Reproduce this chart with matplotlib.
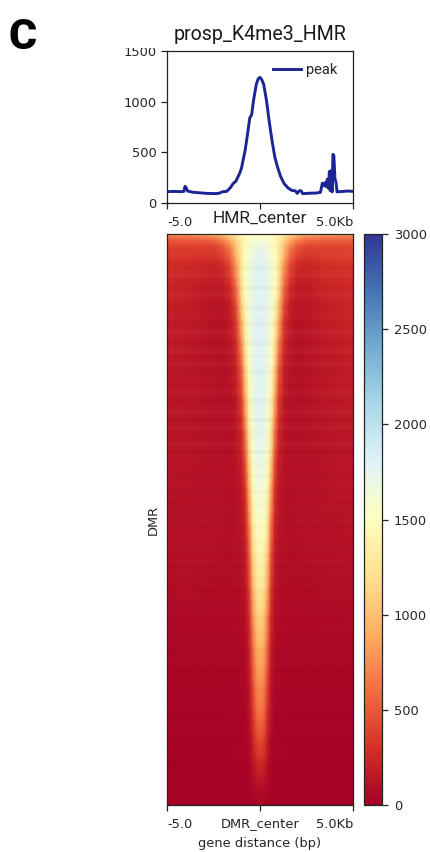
import matplotlib

matplotlib.use("Agg")
import matplotlib.pyplot as plt
import numpy as np
from matplotlib.cm import ScalarMappable
from matplotlib.colors import Normalize
from matplotlib.patches import Rectangle

W, H = 431, 852

# profile line
PROFILE_KB = [-5.0, -4.6, -4.2, -4.1, -4.03, -3.97, -3.9, -3.85, -3.6, -3.2, -2.8, -2.4, -2.2, -2.0, -1.8,
              -1.6, -1.45, -1.3, -1.1, -1.0, -0.9, -0.8, -0.7, -0.55, -0.45, -0.35, -0.2, -0.1, 0.0, 0.1,
              0.2, 0.35, 0.5, 0.65, 0.8, 0.95, 1.1, 1.3, 1.5, 1.7, 1.9, 2.0, 2.1, 2.2, 2.3, 2.6, 3.0, 3.25,
              3.35, 3.42, 3.5, 3.56, 3.62, 3.68, 3.73, 3.78, 3.83, 3.88, 3.92, 3.97, 4.03, 4.09, 4.14, 4.2,
              4.26, 4.4, 4.7, 5.0]
PROFILE_Y = [112, 114, 112, 114, 165, 150, 118, 116, 106, 100, 94, 93, 96, 112, 114,
             150, 190, 215, 290, 340, 430, 520, 640, 840, 870, 1010, 1170, 1225, 1240, 1215,
             1170, 1010, 800, 610, 450, 350, 265, 190, 150, 125, 120, 95, 118, 122, 92, 96, 98, 105,
             195, 170, 200, 160, 235, 145, 310, 120, 320, 110, 480, 470, 240, 200, 110, 110,
             112, 113, 118, 115]

# heatmap table: column positions (kb), row depth (0 top, 1 bottom), signal per cell
HEAT_KB = [-5, -3.5, -2.5, -2, -1.6, -1.3, -1, -0.8, -0.6, -0.4, -0.2, 0, 0.2, 0.4, 0.6, 0.8, 1, 1.3, 1.6, 2, 2.5, 3.5, 5]
HEAT_DEPTH = [0, 0.006, 0.012, 0.02, 0.03, 0.045, 0.065, 0.09, 0.115, 0.15, 0.19, 0.23, 0.28, 0.335,
              0.39, 0.44, 0.5, 0.56, 0.62, 0.67, 0.72, 0.78, 0.85, 0.89, 0.92, 0.95, 0.97, 1]
HEAT = [
    [800, 860, 950, 1080, 1200, 1300, 1400, 1450, 1480, 1500, 1510, 1510, 1510, 1500, 1480, 1450, 1400, 1300, 1200, 1080, 960, 880, 830],
    [600, 630, 700, 840, 1020, 1200, 1360, 1440, 1490, 1530, 1560, 1570, 1560, 1530, 1490, 1440, 1360, 1200, 1020, 840, 710, 650, 630],
    [490, 500, 550, 680, 880, 1120, 1340, 1450, 1510, 1570, 1610, 1620, 1610, 1570, 1510, 1450, 1340, 1120, 880, 680, 560, 520, 520],
    [400, 400, 420, 530, 750, 1050, 1330, 1460, 1540, 1610, 1650, 1660, 1650, 1610, 1540, 1460, 1330, 1050, 750, 530, 440, 430, 430],
    [360, 340, 340, 430, 640, 980, 1320, 1480, 1570, 1650, 1710, 1730, 1710, 1650, 1570, 1480, 1320, 980, 640, 430, 360, 370, 390],
    [310, 290, 260, 320, 510, 880, 1300, 1490, 1600, 1690, 1750, 1770, 1750, 1690, 1600, 1490, 1300, 880, 510, 320, 280, 320, 340],
    [270, 240, 200, 240, 400, 750, 1280, 1500, 1620, 1710, 1770, 1790, 1770, 1710, 1620, 1500, 1280, 750, 400, 240, 220, 270, 300],
    [240, 210, 165, 180, 300, 610, 1220, 1480, 1620, 1710, 1770, 1790, 1770, 1710, 1620, 1480, 1220, 610, 300, 180, 180, 240, 270],
    [220, 185, 140, 145, 230, 470, 1120, 1440, 1610, 1710, 1770, 1790, 1770, 1710, 1610, 1440, 1120, 470, 230, 145, 155, 210, 250],
    [195, 165, 125, 125, 180, 350, 950, 1370, 1580, 1700, 1770, 1790, 1770, 1700, 1580, 1370, 950, 350, 180, 125, 140, 195, 225],
    [175, 150, 120, 115, 150, 260, 740, 1260, 1540, 1690, 1770, 1790, 1770, 1690, 1540, 1260, 740, 260, 150, 115, 130, 175, 205],
    [160, 140, 120, 110, 130, 210, 560, 1120, 1480, 1670, 1760, 1780, 1760, 1670, 1480, 1120, 560, 210, 130, 110, 125, 160, 190],
    [150, 135, 115, 105, 115, 175, 400, 920, 1400, 1650, 1750, 1770, 1750, 1650, 1400, 920, 400, 175, 115, 105, 120, 150, 175],
    [140, 125, 110, 105, 105, 145, 280, 700, 1290, 1610, 1730, 1750, 1730, 1610, 1290, 700, 280, 145, 105, 105, 115, 135, 155],
    [130, 120, 110, 100, 100, 125, 210, 480, 1120, 1540, 1690, 1710, 1690, 1540, 1120, 480, 210, 125, 100, 100, 110, 125, 140],
    [125, 115, 105, 100, 95, 115, 165, 330, 900, 1440, 1620, 1650, 1620, 1440, 900, 330, 165, 115, 95, 100, 105, 120, 135],
    [115, 110, 105, 95, 90, 105, 135, 230, 660, 1280, 1520, 1560, 1520, 1280, 660, 230, 135, 105, 90, 95, 105, 115, 125],
    [105, 100, 95, 90, 85, 95, 115, 175, 480, 1090, 1380, 1430, 1380, 1090, 480, 175, 115, 95, 85, 90, 95, 105, 110],
    [85, 85, 80, 75, 75, 80, 95, 130, 340, 880, 1220, 1280, 1220, 880, 340, 130, 95, 80, 75, 75, 80, 85, 90],
    [70, 70, 65, 65, 65, 70, 80, 100, 250, 710, 1060, 1130, 1060, 710, 250, 100, 80, 70, 65, 65, 65, 70, 75],
    [55, 55, 50, 50, 50, 55, 65, 80, 190, 570, 900, 980, 900, 570, 190, 80, 65, 55, 50, 50, 50, 55, 55],
    [45, 45, 40, 40, 40, 45, 50, 65, 140, 430, 730, 800, 730, 430, 140, 65, 50, 45, 40, 40, 40, 45, 45],
    [30, 30, 28, 28, 28, 30, 35, 45, 95, 280, 530, 600, 530, 280, 95, 45, 35, 30, 28, 28, 28, 30, 30],
    [26, 26, 25, 25, 25, 28, 30, 38, 70, 190, 380, 430, 380, 190, 70, 38, 30, 28, 25, 25, 25, 26, 26],
    [22, 22, 22, 22, 22, 25, 26, 32, 55, 130, 260, 300, 260, 130, 55, 32, 26, 25, 22, 22, 22, 22, 22],
    [20, 20, 20, 20, 20, 22, 22, 26, 38, 80, 150, 175, 150, 80, 38, 26, 22, 22, 20, 20, 20, 20, 20],
    [18, 18, 18, 18, 18, 20, 20, 22, 28, 48, 85, 100, 85, 48, 28, 22, 20, 20, 18, 18, 18, 18, 18],
    [15, 15, 15, 15, 15, 15, 15, 15, 16, 18, 22, 24, 22, 18, 16, 15, 15, 15, 15, 15, 15, 15, 15],
]

# row-to-row brightness streaks, top to bottom (-2 darker .. 2 lighter), estimated by eye
STREAKS = [2, 1, 0, -1, 1, 2, 0, -1, -2, 1, 2, -1, 0, -2, 1, 2, 0, -1, -2, 0, 1, -1, -2, 0, 2, 1, -1, -2, 1, 2,
           -1, 0, 2, -1, -2, 0, 1, -1, 0, 2, 1, -2, -1, 1, 2, 0, -2, 1, 2, -1, -1, 0, 2, 1, -2, 0, 1, -1, 0, 1,
           -1, 0, 1, 0, -1, 1, 0, -1, 1, 1, -1, 0, 1, -1, 0, 1, 0, -1, 1, 0, -1, 0, 1, -1, 1, 0, -1, 1, 0, -1,
           0, 1, -1, 0, 1, 0, -1, 0, 1, 0, -1, 0, 0, 1, -1, 0, 0, 1, 0, -1, 0, 0, 1, 0, -1, 0, 0, 0, 1, 0,
           -1, 0, 0, 1, 0, 0, -1, 0, 0, 0, 1, 0, 0, -1, 0, 0, 0, 0, 0, 0, 0, 0, 0]

XTICKS = [-5, 0, 5]
PROFILE_YTICKS = [0, 500, 1000, 1500]
CBAR_TICKS = [0, 500, 1000, 1500, 2000, 2500, 3000]

LINE_COLOR = "#1c2594"
EDGE_COLOR = "#222222"
TEXT_COLOR = "#262626"


def px_axes(fig, left, top, right, bottom):
    return fig.add_axes([left / W, 1 - bottom / H, (right - left) / W, (bottom - top) / H])


def label_xticks(ax, center):
    ax.set_xlim(-5, 5)
    ax.set_xticks(XTICKS)
    ax.set_xticklabels(["-5.0", center, "5.0Kb"])
    labels = ax.get_xticklabels()
    labels[0].set_ha("left")
    labels[2].set_ha("right")
    return labels


def style_axes(ax):
    for spine in ax.spines.values():
        spine.set_linewidth(0.9)
        spine.set_color(EDGE_COLOR)
    ax.tick_params(labelsize=9.4, length=4, width=0.9, color=EDGE_COLOR, labelcolor=TEXT_COLOR)


def streak_overlay(ax):
    # white or black per row, alpha from the streak strength
    streaks = np.array(STREAKS, dtype=float)
    rgba = np.zeros((len(streaks), 1, 4))
    rgba[streaks > 0, 0, :3] = 1
    rgba[:, 0, 3] = np.abs(streaks) * 0.014
    ax.imshow(rgba, aspect="auto", extent=(-5, 5, 1, 0), interpolation="nearest", zorder=3)


def main():
    fig = plt.figure(figsize=(W / 100, H / 100), dpi=100)

    # top profile
    ax = px_axes(fig, 167, 51, 353, 203)
    ax.plot(PROFILE_KB, PROFILE_Y, color=LINE_COLOR, lw=2.1, label="peak")
    ax.set_ylim(0, 1500)
    ax.set_yticks(PROFILE_YTICKS)
    labels = label_xticks(ax, "HMR_center")
    style_axes(ax)
    ax.tick_params(axis="x", pad=5)
    labels[1].set_fontfamily("Roboto")
    labels[1].set_fontsize(12.5)
    labels[1].set_y(0.03)
    leg = ax.legend(loc="upper right", frameon=False, prop={"family": "Roboto", "size": 10.5},
                    bbox_to_anchor=(0.98, 1.0), handlelength=1.9, handletextpad=0.4, borderpad=0.3)
    leg.get_texts()[0].set_color(TEXT_COLOR)
    ax.set_title("prosp_K4me3_HMR", family="Roboto", fontsize=14.1, color="#1a1a1a", pad=8)

    # heatmap
    hax = px_axes(fig, 167, 234, 353, 805)
    norm = Normalize(0, 3000)
    hax.pcolormesh(HEAT_KB, HEAT_DEPTH, np.array(HEAT), shading="gouraud", cmap="RdYlBu", norm=norm)
    streak_overlay(hax)
    hax.set_ylim(1, 0)
    hax.set_yticks([])
    label_xticks(hax, "DMR_center")
    style_axes(hax)
    hax.tick_params(axis="x", pad=5)
    hax.set_xlabel("gene distance (bp)", fontsize=9.4, color=TEXT_COLOR, labelpad=5)
    hax.set_ylabel("DMR", fontsize=9.4, color=TEXT_COLOR, labelpad=5)

    # colorbar
    cax = px_axes(fig, 364, 234, 382, 805)
    cbar = fig.colorbar(ScalarMappable(norm=norm, cmap="RdYlBu"), cax=cax)
    cbar.set_ticks(CBAR_TICKS)
    cbar.outline.set_linewidth(0.9)
    cbar.outline.set_edgecolor(EDGE_COLOR)
    cax.tick_params(labelsize=9.4, length=4, width=0.9, pad=4.5, color=EDGE_COLOR, labelcolor=TEXT_COLOR)

    # the source crops the top of the 1500 label
    fig.add_artist(Rectangle((125 / W, 1 - 47.5 / H), 38 / W, 5 / H, transform=fig.transFigure,
                             facecolor="white", edgecolor="none", zorder=10))

    fig.text(9 / W, 1 - 49 / H, "C", family="Roboto", fontsize=31, fontweight="black", color="black",
             ha="left", va="baseline")

    fig.savefig("out.png", dpi=100)


if __name__ == "__main__":
    main()
